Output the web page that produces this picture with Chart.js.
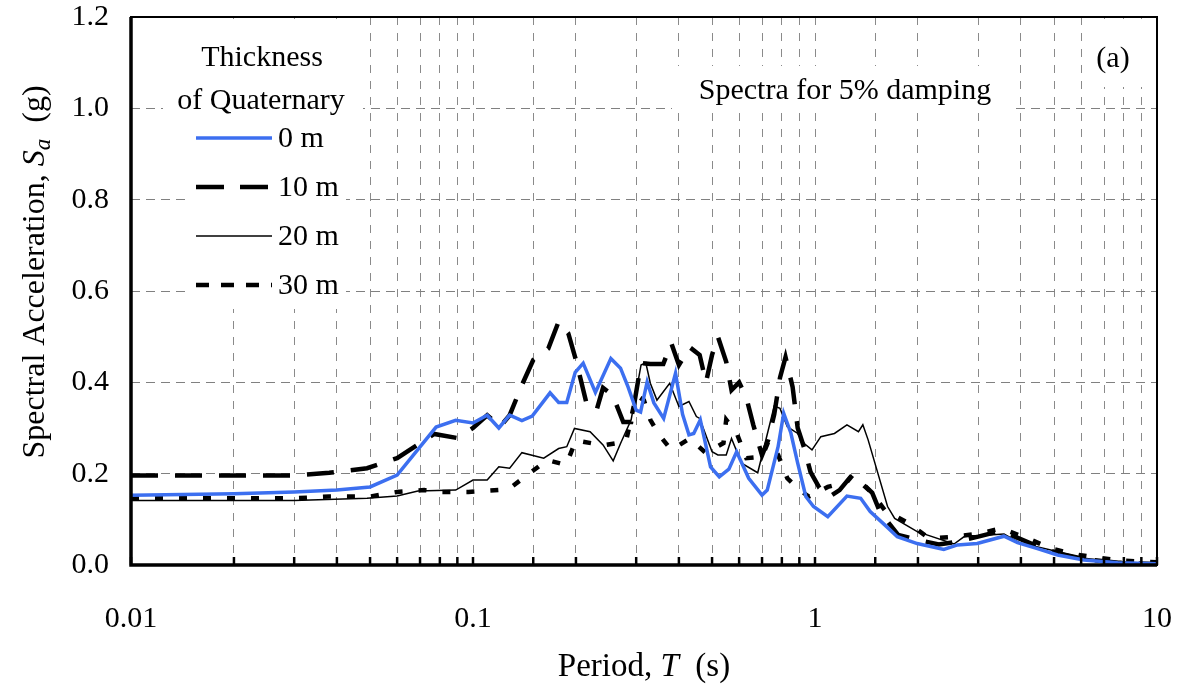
<!DOCTYPE html>
<html>
<head>
<meta charset="utf-8">
<script src="https://cdn.jsdelivr.net/npm/chart.js"></script>
<style>
  body { margin: 0; background: #fff; }
  canvas { display: block; }
</style>
</head>
<body>
<canvas id="spectraChart" width="1180" height="694"></canvas>
<script>
// Periods (s) and spectral acceleration (g)
const periods0 = [0.01,0.02,0.03,0.04,0.05,0.06,0.078,0.089,0.1,0.11,0.119,0.128,0.139,0.149,0.168,0.178,0.188,0.199,0.21,0.228,0.253,0.27,0.284,0.3,0.309,0.323,0.338,0.361,0.391,0.41,0.428,0.442,0.462,0.495,0.525,0.56,0.59,0.64,0.7,0.725,0.78,0.81,0.85,0.89,0.94,0.99,1.09,1.24,1.36,1.45,1.62,1.74,1.99,2.38,2.61,2.98,3.57,3.91,4.47,5.12,6.11,7.67,10];
const sa0 = [0.153,0.156,0.16,0.164,0.171,0.197,0.302,0.317,0.311,0.328,0.3,0.328,0.316,0.326,0.377,0.356,0.356,0.422,0.442,0.378,0.452,0.431,0.39,0.339,0.335,0.401,0.355,0.321,0.42,0.33,0.285,0.288,0.318,0.215,0.193,0.21,0.248,0.19,0.153,0.164,0.259,0.332,0.289,0.223,0.15,0.128,0.106,0.151,0.146,0.117,0.084,0.062,0.047,0.034,0.044,0.047,0.063,0.049,0.036,0.022,0.011,0.005,0.003];

const periods10 = [0.01,0.02,0.03,0.038,0.049,0.06,0.077,0.09,0.1,0.11,0.12,0.128,0.139,0.15,0.166,0.178,0.19,0.2,0.216,0.23,0.24,0.256,0.275,0.29,0.31,0.33,0.36,0.38,0.4,0.43,0.46,0.48,0.5,0.52,0.55,0.57,0.6,0.63,0.66,0.7,0.73,0.76,0.79,0.82,0.86,0.89,0.93,0.97,1.03,1.1,1.18,1.27,1.33,1.47,1.55,1.75,2.0,2.3,2.55,3.0,3.5,3.9,4.5,5.2,6.1,7.7,10];
const sa10 = [0.196,0.196,0.196,0.202,0.212,0.234,0.287,0.278,0.3,0.328,0.303,0.328,0.394,0.449,0.474,0.533,0.507,0.449,0.346,0.34,0.388,0.372,0.313,0.313,0.442,0.44,0.44,0.486,0.438,0.477,0.46,0.4,0.46,0.5,0.445,0.383,0.4,0.366,0.307,0.24,0.274,0.33,0.41,0.455,0.39,0.3,0.256,0.204,0.169,0.149,0.164,0.193,0.19,0.158,0.116,0.066,0.055,0.045,0.05,0.062,0.075,0.06,0.04,0.025,0.013,0.005,0.002];

const periods20 = [0.01,0.02,0.03,0.049,0.06,0.069,0.089,0.1,0.11,0.119,0.128,0.139,0.161,0.178,0.188,0.198,0.22,0.24,0.257,0.27,0.29,0.31,0.32,0.33,0.345,0.376,0.4,0.428,0.45,0.46,0.5,0.52,0.55,0.57,0.61,0.68,0.76,0.79,0.83,0.89,0.93,0.98,1.04,1.14,1.24,1.34,1.38,1.43,1.63,1.71,1.99,2.55,2.75,2.98,3.57,3.96,4.89,6.1,7.7,10];
const sa20 = [0.141,0.141,0.141,0.146,0.151,0.162,0.164,0.186,0.186,0.215,0.212,0.246,0.234,0.255,0.259,0.299,0.292,0.263,0.228,0.266,0.318,0.438,0.443,0.398,0.361,0.398,0.347,0.358,0.325,0.321,0.248,0.241,0.241,0.277,0.223,0.202,0.348,0.343,0.303,0.288,0.266,0.252,0.281,0.288,0.307,0.292,0.307,0.274,0.128,0.102,0.073,0.046,0.064,0.064,0.068,0.049,0.033,0.015,0.007,0.003];

const periods30 = [0.01,0.02,0.03,0.038,0.05,0.06,0.072,0.08,0.097,0.127,0.144,0.165,0.187,0.2,0.24,0.28,0.3,0.316,0.33,0.35,0.38,0.43,0.48,0.54,0.55,0.59,0.63,0.7,0.73,0.78,0.83,0.9,0.96,1.09,1.24,1.29,1.47,1.6,1.88,2.16,2.55,2.98,3.5,4.2,4.89,5.9,7.7,10];
const sa30 = [0.146,0.146,0.146,0.15,0.15,0.16,0.164,0.16,0.16,0.166,0.197,0.23,0.219,0.273,0.262,0.27,0.372,0.361,0.318,0.285,0.252,0.277,0.245,0.267,0.318,0.289,0.234,0.237,0.27,0.241,0.19,0.164,0.15,0.171,0.182,0.197,0.157,0.12,0.091,0.058,0.062,0.068,0.08,0.058,0.036,0.022,0.01,0.006];

const seriesLabels = ['0 m', '10 m', '20 m', '30 m'];
const legendTitle = ['Thickness', 'of Quaternary'];
const yTicks = [0, 0.2, 0.4, 0.6, 0.8, 1.0, 1.2];
const xMajor = [0.01, 0.1, 1, 10];

const serif = '"Liberation Serif", "Times New Roman", serif';

function toPoints(xs, ys) {
    return xs.map((t, i) => ({ x: t, y: ys[i] }));
}

// draws a line of text made of parts (normal / italic / subscript), centred on x
function drawRich(ctx, parts, x, y, size) {
    let total = 0;
    parts.forEach(p => {
        ctx.font = (p.italic ? 'italic ' : '') + (p.sub ? size * 0.72 : size) + 'px ' + serif;
        p.w = ctx.measureText(p.text).width;
        total += p.w;
    });
    let cx = x - total / 2;
    ctx.textAlign = 'left';
    ctx.textBaseline = 'alphabetic';
    parts.forEach(p => {
        ctx.font = (p.italic ? 'italic ' : '') + (p.sub ? size * 0.72 : size) + 'px ' + serif;
        ctx.fillText(p.text, cx, y + (p.sub ? size * 0.2 : 0));
        cx += p.w;
    });
}

// legend, notes, axis titles, frame and inner tick marks
const decorPlugin = {
    id: 'decor',
    afterDraw(chart) {
        const ctx = chart.ctx;
        const area = chart.chartArea;
        const xs = chart.scales.x;
        ctx.save();
        ctx.fillStyle = '#fff';
        // white boxes behind the legend and the notes
        ctx.fillRect(190, area.top + 2, 156, 290);
        ctx.fillRect(163, 36, 200, 90);
        ctx.fillRect(672, 66, 344, 46);
        ctx.fillRect(1088, area.top + 2, 56, 68);

        ctx.fillStyle = '#000';
        ctx.font = '30px ' + serif;
        ctx.textAlign = 'center';
        ctx.textBaseline = 'middle';
        ctx.fillText(legendTitle[0], 262, 58);
        ctx.fillText(legendTitle[1], 261, 101);

        chart.data.datasets.forEach((ds, i) => {
            const yy = 138 + i * 49;
            ctx.save();
            ctx.strokeStyle = ds.borderColor;
            ctx.lineWidth = ds.borderWidth;
            ctx.setLineDash(ds.legendDash || []);
            ctx.beginPath();
            ctx.moveTo(196, yy);
            ctx.lineTo(272, yy);
            ctx.stroke();
            ctx.restore();
            ctx.fillStyle = '#000';
            ctx.font = '30px ' + serif;
            ctx.textAlign = 'left';
            ctx.textBaseline = 'middle';
            ctx.fillText(ds.label, 278, yy + 1);
        });

        ctx.font = '30px ' + serif;
        ctx.textAlign = 'center';
        ctx.textBaseline = 'middle';
        ctx.fillText('Spectra for 5% damping', 845, 91);
        ctx.fillText('(a)', 1113, 59);

        // axis titles
        drawRich(ctx, [{ text: 'Period, ' }, { text: 'T', italic: true }, { text: '  (s)' }], 644, 676, 33);
        ctx.save();
        ctx.translate(44, 272);
        ctx.rotate(-Math.PI / 2);
        drawRich(ctx, [{ text: 'Spectral Acceleration, ' }, { text: 'S', italic: true }, { text: 'a', italic: true, sub: true }, { text: '  (g)' }], 0, 0, 32);
        ctx.restore();

        // small tick marks on the inside of the bottom axis
        ctx.strokeStyle = '#000';
        ctx.lineWidth = 2.5;
        xs.ticks.forEach(t => {
            const px = xs.getPixelForValue(t.value);
            ctx.beginPath();
            ctx.moveTo(px, area.bottom);
            ctx.lineTo(px, area.bottom - 8);
            ctx.stroke();
        });

        // frame
        ctx.lineWidth = 2;
        ctx.strokeRect(area.left, area.top, area.right - area.left, area.bottom - area.top);
        ctx.lineWidth = 3.5;
        ctx.beginPath();
        ctx.moveTo(area.left, area.top);
        ctx.lineTo(area.left, area.bottom);
        ctx.lineTo(area.right, area.bottom);
        ctx.stroke();
        ctx.restore();
    }
};

const ctx = document.getElementById('spectraChart').getContext('2d');

const spectraChart = new Chart(ctx, {
    type: 'scatter',
    data: {
        datasets: [
            {
                label: seriesLabels[0],
                data: toPoints(periods0, sa0),
                borderColor: '#3c6ff0',
                borderWidth: 3.5
            },
            {
                label: seriesLabels[1],
                data: toPoints(periods10, sa10),
                borderColor: '#000',
                borderWidth: 4.5,
                borderDash: [27, 17],
                legendDash: [28, 16]
            },
            {
                label: seriesLabels[2],
                data: toPoints(periods20, sa20),
                borderColor: '#000',
                borderWidth: 1.5
            },
            {
                label: seriesLabels[3],
                data: toPoints(periods30, sa30),
                borderColor: '#000',
                borderWidth: 4.5,
                borderDash: [8, 16],
                legendDash: [13, 12]
            }
        ].map(ds => Object.assign(ds, { showLine: true, pointRadius: 0, tension: 0, fill: false }))
    },
    options: {
        responsive: false,
        animation: false,
        devicePixelRatio: 1,
        layout: { padding: { left: 0, top: 17, right: 23, bottom: 0 } },
        plugins: {
            legend: { display: false },
            tooltip: { enabled: false }
        },
        scales: {
            x: {
                type: 'logarithmic',
                min: 0.01,
                max: 10,
                afterFit: s => {
                    s.height = 694 - 565;
                    s.paddingLeft = 0;
                    s.paddingRight = 0;
                },
                grid: { color: '#8a8a8a', lineWidth: 1, drawTicks: false },
                border: { display: false, dash: [8, 8] },
                ticks: {
                    autoSkip: false,
                    maxRotation: 0,
                    padding: 36,
                    color: '#000',
                    font: { family: serif, size: 30 },
                    callback: v => {
                        const m = xMajor.find(t => Math.abs(t - v) < t * 1e-6);
                        return m === undefined ? '' : String(m);
                    }
                }
            },
            y: {
                min: 0,
                max: 1.2,
                afterFit: s => {
                    s.width = 131;
                    s.paddingTop = 0;
                    s.paddingBottom = 0;
                },
                grid: { color: '#808080', lineWidth: 1, drawTicks: false },
                border: { display: false, dash: [9, 6] },
                afterBuildTicks: s => { s.ticks = yTicks.map(v => ({ value: v })); },
                ticks: {
                    padding: 22,
                    color: '#000',
                    font: { family: serif, size: 30 },
                    callback: v => Number(v).toFixed(1)
                }
            }
        }
    },
    plugins: [decorPlugin]
});
</script>
</body>
</html>
